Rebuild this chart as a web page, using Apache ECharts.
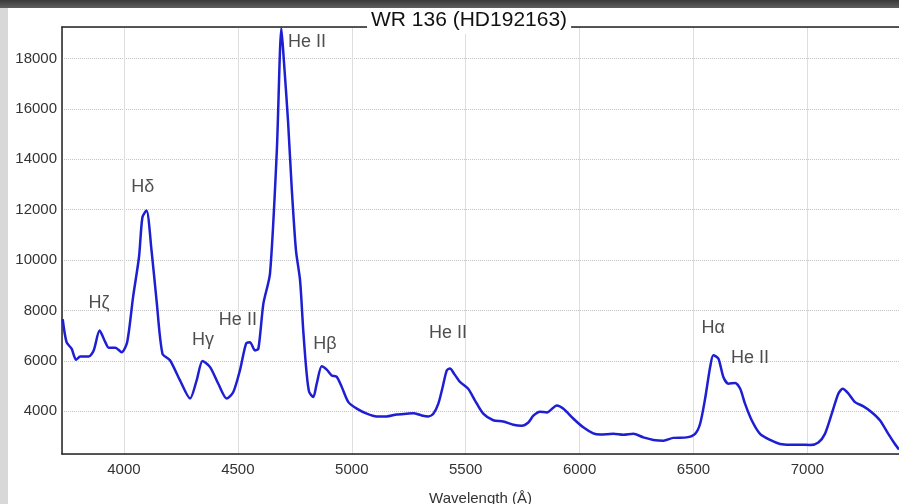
<!DOCTYPE html>
<html>
<head>
<meta charset="utf-8">
<script src="https://cdn.jsdelivr.net/npm/echarts@6/dist/echarts.min.js"></script>
<style>
html, body { margin: 0; padding: 0; background: #fff; }
#spectrum { width: 899px; height: 504px; }
</style>
</head>
<body>
<div id="spectrum"></div>
<script>
// wavelength (A) and flux
var wavelength = [3731, 3748, 3770, 3790, 3808, 3845, 3867, 3893, 3918, 3933, 3962, 3990, 4014, 4040, 4066, 4081, 4099, 4121, 4143, 4169,
    4202, 4246, 4290, 4319, 4345, 4378, 4414, 4451, 4480, 4509, 4536, 4553, 4575, 4590, 4612, 4641, 4671, 4691, 4702, 4720,
    4737, 4755, 4773, 4787, 4802, 4813, 4831, 4846, 4868, 4890, 4912, 4934, 4956, 4985, 5022, 5066, 5109, 5153, 5197, 5241,
    5270, 5307, 5336, 5358, 5380, 5399, 5417, 5431, 5449, 5475, 5511, 5541, 5577, 5621, 5665, 5709, 5746, 5775, 5797, 5826,
    5856, 5900, 5929, 5973, 6016, 6060, 6090, 6148, 6192, 6236, 6280, 6324, 6368, 6411, 6470, 6507, 6529, 6551, 6573, 6587,
    6609, 6631, 6653, 6683, 6705, 6726, 6756, 6792, 6836, 6880, 6924, 6968, 7012, 7048, 7077, 7107, 7136, 7155, 7180, 7209,
    7246, 7282, 7319, 7355, 7384, 7402];
var flux = [7650, 6740, 6480, 6040, 6170, 6170, 6410, 7200, 6740, 6520, 6520, 6340, 6740, 8530, 10120, 11700, 11970, 10380, 8400, 6280,
    6020, 5220, 4500, 5220, 5990, 5750, 5090, 4500, 4760, 5620, 6680, 6740, 6410, 6480, 8270, 9460, 14350, 19200, 17900, 15540,
    12760, 10380, 9190, 7200, 5490, 4760, 4560, 5090, 5780, 5650, 5420, 5360, 4960, 4360, 4100, 3900, 3790, 3790, 3870, 3900,
    3920, 3830, 3790, 3900, 4300, 4960, 5620, 5690, 5490, 5160, 4890, 4420, 3900, 3640, 3590, 3460, 3420, 3550, 3820, 3980,
    3950, 4230, 4100, 3700, 3360, 3120, 3070, 3100, 3060, 3100, 2960, 2860, 2830, 2940, 2960, 3100, 3500, 4500, 5750, 6220,
    6090, 5360, 5090, 5120, 4890, 4300, 3630, 3100, 2860, 2700, 2670, 2670, 2660, 2760, 3100, 3900, 4700, 4890, 4700, 4360,
    4190, 3960, 3630, 3100, 2700, 2480];

// line identifications
var lineNames = ['He II', 'H\u03b4', 'H\u03b6', 'H\u03b3', 'He II', 'H\u03b2', 'He II', 'H\u03b1', 'He II'];
var lineX = [4803, 4083, 3890, 4347, 4500, 4882, 5422, 6586, 6748];
var lineY = [18635, 12880, 8280, 6810, 7600, 6650, 7090, 7290, 6100];

var spectrumData = wavelength.map(function (w, i) { return [w, flux[i]]; });
var labelData = lineNames.map(function (n, i) { return { name: n, value: [lineX[i], lineY[i]] }; });

var font = '"Liberation Sans", Arial, sans-serif';
var chart = echarts.init(document.getElementById('spectrum'));
var option = {
    animation: false,
    backgroundColor: '#fff',
    graphic: [
        { type: 'rect', z: 100, shape: { x: 0, y: 0, width: 899, height: 8 },
          style: { fill: new echarts.graphic.LinearGradient(0, 0, 0, 1, [{ offset: 0, color: '#3a3a3a' }, { offset: 1, color: '#5e5e5e' }]) } },
        { type: 'rect', z: 100, shape: { x: 0, y: 8, width: 8, height: 496 }, style: { fill: '#d8d8d8' } }
    ],
    title: {
        text: 'WR 136 (HD192163)',
        left: 367,
        top: 7,
        padding: [3, 4],
        backgroundColor: '#fff',
        textStyle: { fontFamily: font, fontSize: 21, fontWeight: 'normal', color: '#111' }
    },
    grid: { left: 62, top: 27, right: 0, bottom: 50, outerBoundsMode: 'none', containLabel: false },
    xAxis: [
        {
            type: 'value',
            min: 3728,
            max: 7402,
            splitNumber: 7,
            name: 'Wavelength (\u00c5)',
            nameLocation: 'middle',
            nameGap: 37,
            nameTextStyle: { fontFamily: font, fontSize: 15, color: '#333' },
            axisLine: { show: true, lineStyle: { color: '#222', width: 1.5 } },
            axisTick: { show: false },
            axisLabel: {
                fontFamily: font, fontSize: 15, color: '#333', margin: 8,
                formatter: function (v) { return v % 500 === 0 ? String(v) : ''; }
            },
            splitLine: { show: true, showMaxLine: false, lineStyle: { color: '#dedede', type: 'solid', width: 1 } }
        },
        {
            type: 'value',
            position: 'top',
            min: 3728,
            max: 7402,
            axisLine: { show: true, lineStyle: { color: '#222', width: 1.5 } },
            axisTick: { show: false },
            axisLabel: { show: false },
            splitLine: { show: false }
        }
    ],
    yAxis: {
        type: 'value',
        min: 2300,
        max: 19250,
        splitNumber: 8,
        axisLine: { show: true, lineStyle: { color: '#222', width: 1.5 } },
        axisTick: { show: false },
        axisLabel: {
            fontFamily: font, fontSize: 15, color: '#333', margin: 5,
            formatter: function (v) { return v % 2000 === 0 ? String(v) : ''; }
        },
        splitLine: { show: true, lineStyle: { color: '#c4c4c4', type: 'dotted', width: 1 } }
    },
    series: [
        {
            type: 'line',
            data: spectrumData,
            showSymbol: false,
            smooth: 0.25,
            lineStyle: { color: '#1e1ed2', width: 2.5 },
            z: 3
        },
        {
            type: 'scatter',
            data: labelData,
            symbolSize: 0,
            silent: true,
            label: {
                show: true,
                position: 'inside',
                formatter: '{b}',
                fontFamily: font,
                fontSize: 18,
                color: '#222'
            },
            z: 4
        }
    ]
};
chart.setOption(option);
</script>
</body>
</html>
